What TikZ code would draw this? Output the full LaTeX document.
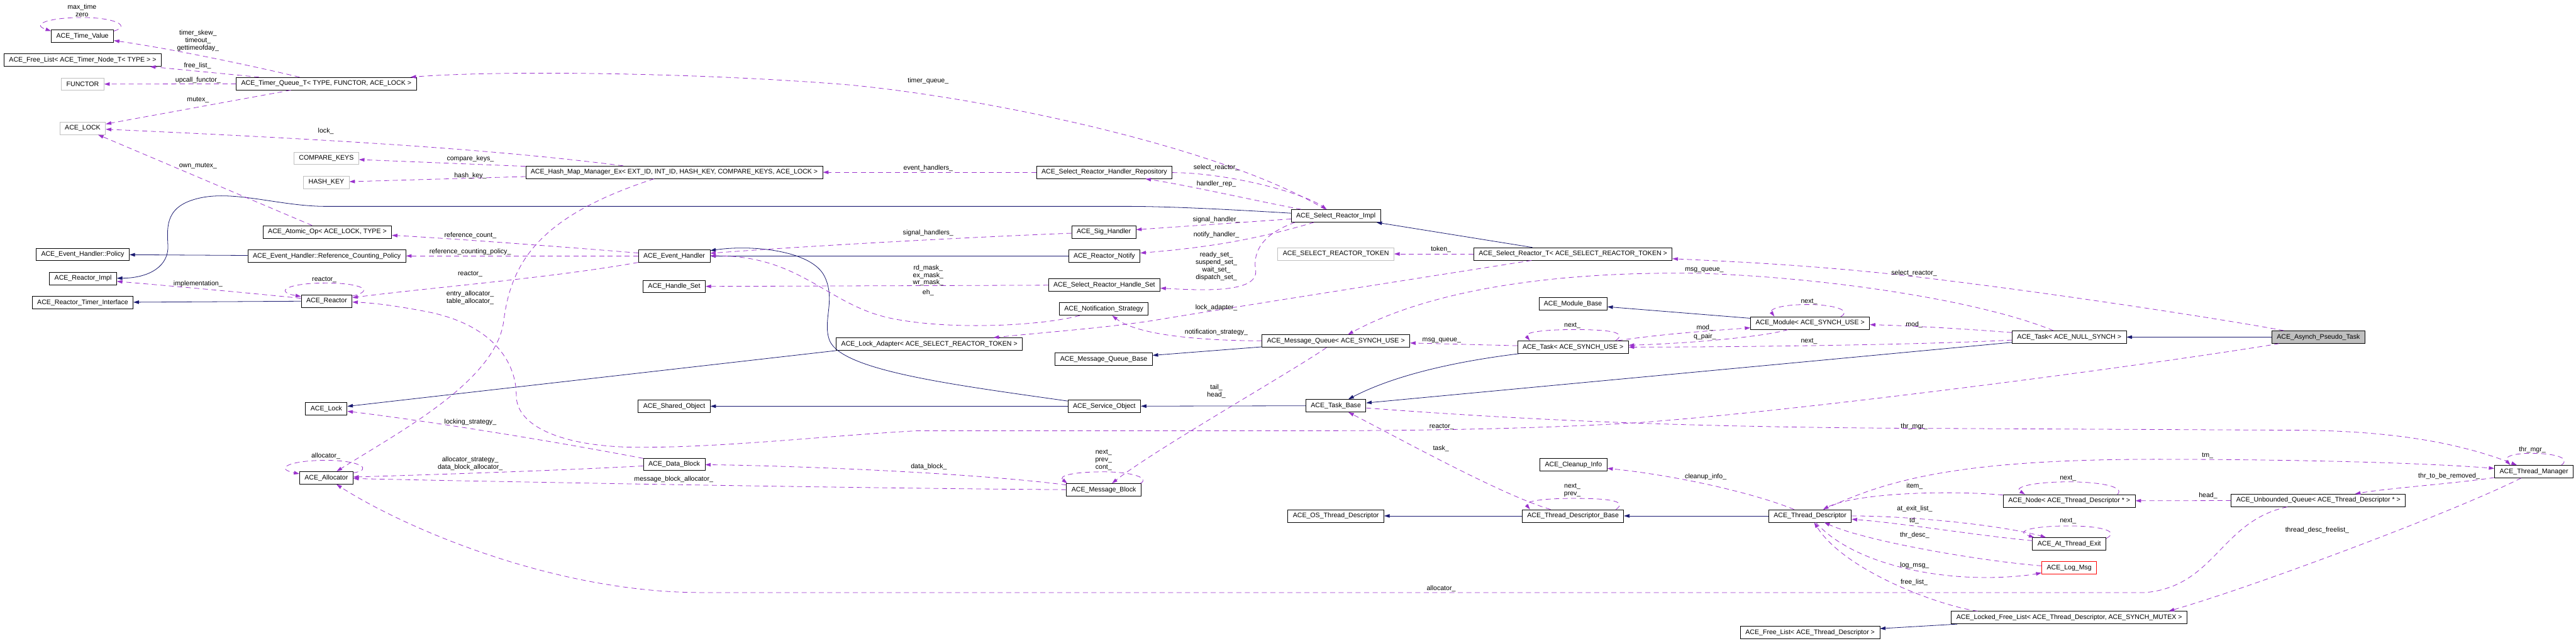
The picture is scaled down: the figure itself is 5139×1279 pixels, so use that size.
\documentclass[tikz,border=0pt]{standalone}
\usepackage{fontspec}
\setmainfont{Liberation Sans}
\usepackage{tikz}
\usetikzlibrary{arrows.meta}

\definecolor{usecol}{RGB}{154,50,205}
\definecolor{inhcol}{RGB}{25,25,112}
\definecolor{extcol}{RGB}{191,191,191}

\begin{document}
\begin{tikzpicture}[
    x=1pt, y=-1pt,
    every node/.style={font=\fontsize{13.3}{15}\selectfont},
    cls/.style={draw=black, fill=white, line width=1pt, inner xsep=10pt, inner ysep=0pt, minimum height=25pt},
    ext/.style={cls, draw=extcol},
    hl/.style={cls, fill=extcol},
    bad/.style={cls, draw=red},
    lbl/.style={align=center, inner sep=0pt},
    inh/.style={draw=inhcol, line width=1pt, -{Triangle[length=11pt,width=7pt]}},
    use/.style={draw=usecol, line width=1pt, dash pattern=on 10pt off 7pt, -{Triangle[length=11pt,width=7pt]}}
]
    % Canvas
    \fill[white] (0,0) rectangle (5139,1279);
    \useasboundingbox (0,0) rectangle (5139,1279);

    % Column 1
    \node[cls] (tv) at (164.5,72) {ACE\_Time\_Value};
    \node[cls] (fltn) at (165,120) {ACE\_Free\_List< ACE\_Timer\_Node\_T< TYPE > >};
    \node[ext] (functor) at (165,168) {FUNCTOR};
    \node[ext] (acelockp) at (165,256) {ACE\_LOCK};
    \node[cls] (ehpol) at (165,508) {ACE\_Event\_Handler::Policy};
    \node[cls] (rimpl) at (165.7,556) {ACE\_Reactor\_Impl};
    \node[cls] (rti) at (165,604) {ACE\_Reactor\_Timer\_Interface};

    % Column 2
    \node[cls] (tq) at (651,167) {ACE\_Timer\_Queue\_T< TYPE, FUNCTOR, ACE\_LOCK >};
    \node[ext] (ckeys) at (651,316) {COMPARE\_KEYS};
    \node[ext] (hkey) at (651,364) {HASH\_KEY};
    \node[cls] (atomic) at (653,463) {ACE\_Atomic\_Op< ACE\_LOCK, TYPE >};
    \node[cls] (rcp) at (652,511) {ACE\_Event\_Handler::Reference\_Counting\_Policy};
    \node[cls] (reactor) at (651.7,601) {ACE\_Reactor};
    \node[cls] (lock) at (651,816) {ACE\_Lock};
    \node[cls] (alloc) at (651,954) {ACE\_Allocator};

    % Column 3
    \node[cls] (hmap) at (1345,344) {ACE\_Hash\_Map\_Manager\_Ex< EXT\_ID, INT\_ID, HASH\_KEY, COMPARE\_KEYS, ACE\_LOCK >};
    \node[cls] (eh) at (1345,511) {ACE\_Event\_Handler};
    \node[cls] (hset) at (1345,572) {ACE\_Handle\_Set};
    \node[cls] (shobj) at (1345,811) {ACE\_Shared\_Object};
    \node[cls] (dblock) at (1345,927) {ACE\_Data\_Block};
    \node[cls] (ladapt) at (1854,687) {ACE\_Lock\_Adapter< ACE\_SELECT\_REACTOR\_TOKEN >};

    % Column 4
    \node[cls] (repo) at (2203,344) {ACE\_Select\_Reactor\_Handler\_Repository};
    \node[cls] (sig) at (2202,463) {ACE\_Sig\_Handler};
    \node[cls] (notify) at (2203,511) {ACE\_Reactor\_Notify};
    \node[cls] (srhs) at (2203,569) {ACE\_Select\_Reactor\_Handle\_Set};
    \node[cls] (nstrat) at (2202,617) {ACE\_Notification\_Strategy};
    \node[cls] (mqbase) at (2202,717) {ACE\_Message\_Queue\_Base};
    \node[cls] (svcobj) at (2203,811) {ACE\_Service\_Object};
    \node[cls] (mblock) at (2202,978) {ACE\_Message\_Block};

    % Column 5
    \node[cls] (srimpl) at (2665,431) {ACE\_Select\_Reactor\_Impl};
    \node[ext] (token) at (2665,507) {ACE\_SELECT\_REACTOR\_TOKEN};
    \node[cls] (mq) at (2665,681) {ACE\_Message\_Queue< ACE\_SYNCH\_USE >};
    \node[cls] (tbase) at (2665,810) {ACE\_Task\_Base};
    \node[cls] (osthr) at (2665,1030) {ACE\_OS\_Thread\_Descriptor};

    % Column 6
    \node[cls] (srt) at (3138,507) {ACE\_Select\_Reactor\_T< ACE\_SELECT\_REACTOR\_TOKEN >};
    \node[cls] (modbase) at (3138,607) {ACE\_Module\_Base};
    \node[cls] (tsync) at (3138,693) {ACE\_Task< ACE\_SYNCH\_USE >};
    \node[cls] (cleanup) at (3139,928) {ACE\_Cleanup\_Info};
    \node[cls] (tdbase) at (3138,1030) {ACE\_Thread\_Descriptor\_Base};

    % Column 7
    \node[cls] (module) at (3611,645) {ACE\_Module< ACE\_SYNCH\_USE >};
    \node[cls] (tdesc) at (3611,1030) {ACE\_Thread\_Descriptor};
    \node[cls] (fltd) at (3611,1263) {ACE\_Free\_List< ACE\_Thread\_Descriptor >};

    % Column 8
    \node[cls] (tnull) at (4128,673) {ACE\_Task< ACE\_NULL\_SYNCH >};
    \node[cls] (tnode) at (4128,1000) {ACE\_Node< ACE\_Thread\_Descriptor * >};
    \node[cls] (atexit) at (4128,1086) {ACE\_At\_Thread\_Exit};
    \node[bad] (logmsg) at (4128,1134) {ACE\_Log\_Msg};
    \node[cls] (lfl) at (4128,1233) {ACE\_Locked\_Free\_List< ACE\_Thread\_Descriptor, ACE\_SYNCH\_MUTEX >};

    % Column 9 and 10
    \node[hl] (apt) at (4625,673) {ACE\_Asynch\_Pseudo\_Task};
    \node[cls] (uq) at (4625,999) {ACE\_Unbounded\_Queue< ACE\_Thread\_Descriptor * >};
    \node[cls] (tmgr) at (5055,941.5) {ACE\_Thread\_Manager};

    % Inheritance
    \draw[inh] (srimpl) .. controls (2450,418) and (2330,412) .. (2250,412) -- (650,412) .. controls (560,412) and (470,380) .. (400,395) .. controls (330,410) and (333,450) .. (335,490) .. controls (337,530) and (300,555) .. (rimpl);
    \draw[inh] (srt) -- (srimpl);
    \draw[inh] (rcp) -- (ehpol);
    \draw[inh] (reactor) -- (rti);
    \draw[inh] (notify) -- (eh);
    \draw[inh] (svcobj) .. controls (1900,768) and (1680,740) .. (1655,680) .. controls (1640,640) and (1668,600) .. (1645,552) .. controls (1620,500) and (1500,488) .. (eh);
    \draw[inh] (svcobj) -- (shobj);
    \draw[inh] (tbase) -- (svcobj);
    \draw[inh] (tsync) .. controls (2900,722) and (2780,750) .. (tbase);
    \draw[inh] (tnull) -- (tbase);
    \draw[inh] (ladapt.south west) -- (lock);
    \draw[inh] (mq) -- (mqbase);
    \draw[inh] (module) -- (modbase);
    \draw[inh] (apt) -- (tnull);
    \draw[inh] (tdbase) -- (osthr);
    \draw[inh] (tdesc) -- (tdbase);
    \draw[inh] (lfl) -- (fltd);

    % Timer queue members
    \draw[use] ([yshift=-3]tv.north east) .. controls (262,52) and (230,35) .. (164,35) .. controls (100,35) and (60,48) .. ([yshift=-3]tv.north west);
    \draw[use] (tq) .. controls (540,140) and (360,100) .. (tv);
    \draw[use] (tq) -- (fltn);
    \draw[use] (tq) -- (functor);
    \draw[use] (tq) -- (acelockp);
    \draw[use] (srimpl) .. controls (2450,300) and (2000,200) .. (1700,170) .. controls (1400,145) and (1000,140) .. (tq);

    % Hash map members
    \draw[use] (hmap) .. controls (1000,300) and (700,280) .. (acelockp);
    \draw[use] (hmap) -- (ckeys);
    \draw[use] (hmap) -- (hkey);
    \draw[use] (hmap) .. controls (1080,430) and (1020,520) .. (1005,640) .. controls (990,760) and (800,860) .. (alloc);
    \draw[use] (atomic) -- (acelockp);

    % Event handler members
    \draw[use] (eh) .. controls (1150,495) and (900,476) .. (atomic);
    \draw[use] (eh) -- (rcp);
    \draw[use] (eh) .. controls (1100,555) and (850,575) .. (reactor);
    \draw[use] ([yshift=-3]reactor.north east) .. controls (750,580) and (720,565) .. (650,565) .. controls (575,565) and (545,582) .. ([yshift=-4]reactor.north west);
    \draw[use] (reactor) .. controls (500,585) and (330,570) .. (rimpl);
    \draw[use] (apt) .. controls (4300,727) and (3600,820) .. (3265,844) .. controls (3000,860) and (2700,860) .. (2580,860) -- (1830,860) .. controls (1650,870) and (1450,893) .. (1277,893) .. controls (1120,893) and (1030,850) .. (1030,790) .. controls (1030,720) and (980,650) .. (860,624) .. controls (800,612) and (750,605) .. (reactor);
    \draw[use] (sig) .. controls (1900,475) and (1600,492) .. (eh);
    \draw[use] (nstrat) .. controls (2080,650) and (1900,660) .. (1780,636) .. controls (1650,610) and (1600,510) .. (eh);

    % Select reactor members
    \draw[use] (srhs) -- (hset);
    \draw[use] (repo) -- (hmap);
    \draw[use] (srimpl) -- (sig);
    \draw[use] (srimpl) .. controls (2500,480) and (2400,495) .. (notify);
    \draw[use] ([xshift=8]srimpl.south west) .. controls (2510,470) and (2500,510) .. (2505,540) .. controls (2510,585) and (2400,580) .. (srhs);
    \draw[use] (repo) .. controls (2450,345) and (2600,385) .. (srimpl);
    \draw[use] (srimpl) .. controls (2500,400) and (2380,372) .. (repo);
    \draw[use] (srt) -- (token);
    \draw[use] (srt) .. controls (2800,560) and (2450,615) .. (2300,640) .. controls (2200,655) and (2100,662) .. (ladapt);
    \draw[use] (apt) .. controls (4450,640) and (4100,585) .. (3800,550) .. controls (3600,528) and (3450,522) .. (srt);

    % Message queue and blocks
    \draw[use] (tnull) .. controls (3950,600) and (3650,555) .. (3400,546) .. controls (3100,540) and (2850,580) .. (mq);
    \draw[use] (tsync) -- (mq);
    \draw[use] (mq) .. controls (2400,680) and (2270,670) .. (nstrat);
    \draw[use] (mq) .. controls (2580,740) and (2300,900) .. (mblock);
    \draw[use] ([xshift=-2]mblock.north east) .. controls (2295,955) and (2260,942) .. (2202,942) .. controls (2140,942) and (2110,950) .. ([xshift=2]mblock.north west);
    \draw[use] (mblock) .. controls (1950,945) and (1600,930) .. (dblock);
    \draw[use] (mblock) .. controls (1700,975) and (900,960) .. (alloc);
    \draw[use] (dblock) .. controls (1100,940) and (850,948) .. (alloc);
    \draw[use] (dblock) .. controls (1100,880) and (850,840) .. (lock);
    \draw[use] ([yshift=-3]alloc.north east) .. controls (745,938) and (720,919) .. (650,919) .. controls (580,919) and (545,935) .. ([yshift=-5]alloc.north west);
    \draw[use] (uq) .. controls (4430,1040) and (4420,1170) .. (4280,1183) -- (1400,1183) .. controls (1100,1183) and (800,1050) .. (alloc);

    % Tasks and modules
    \draw[use] ([xshift=-26]tsync.north east) .. controls (3245,665) and (3220,658) .. (3140,658) .. controls (3070,658) and (3040,665) .. ([xshift=25]tsync.north west);
    \draw[use] ([xshift=-58]module.north east) .. controls (3695,620) and (3660,608) .. (3606,608) .. controls (3550,608) and (3530,618) .. ([xshift=48]module.north west);
    \draw[use] (tsync) .. controls (3330,665) and (3420,660) .. (module);
    \draw[use] (module) .. controls (3520,672) and (3380,685) .. (tsync);
    \draw[use] (tnull) .. controls (3900,655) and (3800,650) .. (module);
    \draw[use] (tnull) .. controls (3800,690) and (3400,693) .. (tsync);
    \draw[use] (tbase) .. controls (3000,835) and (3300,852) .. (3800,855) -- (4600,859) .. controls (4800,862) and (4920,890) .. (tmgr);

    % Thread descriptors
    \draw[use] ([xshift=-16]tdbase.north east) .. controls (3245,1002) and (3220,995) .. (3140,995) .. controls (3070,995) and (3040,1002) .. ([xshift=16]tdbase.north west);
    \draw[use] (tdbase) .. controls (3000,990) and (2800,880) .. (tbase);
    \draw[use] (tdesc) .. controls (3500,985) and (3350,950) .. (cleanup);
    \draw[use] (uq) -- (tnode);
    \draw[use] ([xshift=-36]tnode.north east) .. controls (4240,972) and (4190,962) .. (4126,962) .. controls (4060,962) and (4015,972) .. ([xshift=44]tnode.north west);
    \draw[use] (tnode) .. controls (3880,978) and (3700,985) .. (tdesc);
    \draw[use] (tdesc) .. controls (3760,960) and (3900,917) .. (4300,917) .. controls (4600,917) and (4850,925) .. (tmgr);
    \draw[use] (tdesc) .. controls (3820,1030) and (4000,1050) .. (atexit);
    \draw[use] (atexit) .. controls (3950,1070) and (3800,1045) .. (tdesc);
    \draw[use] ([yshift=-2]atexit.north east) .. controls (4230,1060) and (4190,1050) .. (4126,1050) .. controls (4060,1050) and (4015,1060) .. ([xshift=4]atexit.north west);
    \draw[use] (logmsg) .. controls (3950,1120) and (3720,1080) .. (tdesc);
    \draw[use] (tdesc) .. controls (3690,1120) and (3850,1160) .. (4000,1152) .. controls (4040,1150) and (4060,1146) .. (logmsg);
    \draw[use] ([xshift=53]lfl.north west) .. controls (3870,1210) and (3680,1140) .. (tdesc);

    % Thread manager
    \draw[use] ([xshift=-24]tmgr.north east) .. controls (5130,914) and (5095,905) .. (5050,905) .. controls (5005,905) and (4995,915) .. ([xshift=32]tmgr.north west);
    \draw[use] (tmgr) .. controls (4900,965) and (4760,975) .. (uq);
    \draw[use] (tmgr) .. controls (4900,1020) and (4500,1170) .. ([xshift=-37]lfl.north east);

    % Edge labels
    \node[lbl] (l1) at (163.5,21) {max\_time\\zero};
    \node[lbl] (l2) at (395,81.6) {timer\_skew\_\\timeout\_\\gettimeofday\_};
    \node[lbl] (l3) at (394,131.4) {free\_list\_};
    \node[lbl] (l4) at (395,160) {upcall\_functor\_};
    \node[lbl] (l5) at (395,200) {mutex\_};
    \node[lbl] (l6) at (650,262.4) {lock\_};
    \node[lbl] (l7) at (395,332) {own\_mutex\_};
    \node[lbl] (l8) at (938.4,317.6) {compare\_keys\_};
    \node[lbl] (l9) at (938.4,351) {hash\_key\_};
    \node[lbl] (l10) at (938.4,470.6) {reference\_count\_};
    \node[lbl] (l11) at (938,503) {reference\_counting\_policy\_};
    \node[lbl] (l12) at (938,547.8) {reactor\_};
    \node[lbl] (l13) at (938,594) {entry\_allocator\_\\table\_allocator\_};
    \node[lbl] (l14) at (647,558) {reactor\_};
    \node[lbl] (l15) at (395,566.5) {implementation\_};
    \node[lbl] (l16) at (1851.6,162) {timer\_queue\_};
    \node[lbl] (l17) at (1851.6,335.5) {event\_handlers\_};
    \node[lbl] (l18) at (1851.6,465) {signal\_handlers\_};
    \node[lbl] (l19) at (1851.6,549.8) {rd\_mask\_\\ex\_mask\_\\wr\_mask\_};
    \node[lbl] (l20) at (1851.6,583.7) {eh\_};
    \node[lbl] (l21) at (2426.5,334.7) {select\_reactor\_};
    \node[lbl] (l22) at (2426.5,367) {handler\_rep\_};
    \node[lbl] (l23) at (2426.5,438.8) {signal\_handler\_};
    \node[lbl] (l24) at (2426.5,469.4) {notify\_handler\_};
    \node[lbl] (l25) at (2426.5,532) {ready\_set\_\\suspend\_set\_\\wait\_set\_\\dispatch\_set\_};
    \node[lbl] (l26) at (2426.5,614) {lock\_adapter\_};
    \node[lbl] (l27) at (2874.6,498) {token\_};
    \node[lbl] (l28) at (3400,538.8) {msg\_queue\_};
    \node[lbl] (l29) at (3818.5,545.7) {select\_reactor\_};
    \node[lbl] (l30) at (3609,602) {next\_};
    \node[lbl] (l31) at (3401,654) {mod\_};
    \node[lbl] (l32) at (3401,671.8) {q\_pair\_};
    \node[lbl] (l33) at (3818.5,648) {mod\_};
    \node[lbl] (l34) at (3609,681.6) {next\_};
    \node[lbl] (l35) at (3136.7,650) {next\_};
    \node[lbl] (l36) at (2876,680) {msg\_queue\_};
    \node[lbl] (l37) at (2426.5,663.7) {notification\_strategy\_};
    \node[lbl] (l38) at (2426.5,781) {tail\_\\head\_};
    \node[lbl] (l39) at (2201.6,919) {next\_\\prev\_\\cont\_};
    \node[lbl] (l40) at (1853,932) {data\_block\_};
    \node[lbl] (l41) at (1344,957.6) {message\_block\_allocator\_};
    \node[lbl] (l42) at (938,925.3) {allocator\_strategy\_\\data\_block\_allocator\_};
    \node[lbl] (l43) at (938.4,842.9) {locking\_strategy\_};
    \node[lbl] (l44) at (650,910) {allocator\_};
    \node[lbl] (l45) at (2875,1174.7) {allocator\_};
    \node[lbl] (l46) at (2876,852) {reactor\_};
    \node[lbl] (l47) at (3818.5,852) {thr\_mgr\_};
    \node[lbl] (l48) at (2874.6,896) {task\_};
    \node[lbl] (l49) at (3136.7,978.7) {next\_\\prev\_};
    \node[lbl] (l50) at (3402.8,952) {cleanup\_info\_};
    \node[lbl] (l51) at (3819.6,970.6) {item\_};
    \node[lbl] (l52) at (4125.6,955) {next\_};
    \node[lbl] (l53) at (4404,909.8) {tm\_};
    \node[lbl] (l54) at (4405,989.6) {head\_};
    \node[lbl] (l55) at (3819.6,1015.5) {at\_exit\_list\_};
    \node[lbl] (l56) at (3818.5,1040) {td\_};
    \node[lbl] (l57) at (4125.6,1040.8) {next\_};
    \node[lbl] (l58) at (3819.6,1068.6) {thr\_desc\_};
    \node[lbl] (l59) at (3819.6,1128.6) {log\_msg\_};
    \node[lbl] (l60) at (3818.5,1162.4) {free\_list\_};
    \node[lbl] (l61) at (4885.6,950.5) {thr\_to\_be\_removed\_};
    \node[lbl] (l62) at (4622.6,1058.5) {thread\_desc\_freelist\_};
    \node[lbl] (l63) at (5051.7,897.5) {thr\_mgr\_};
\end{tikzpicture}
\end{document}
